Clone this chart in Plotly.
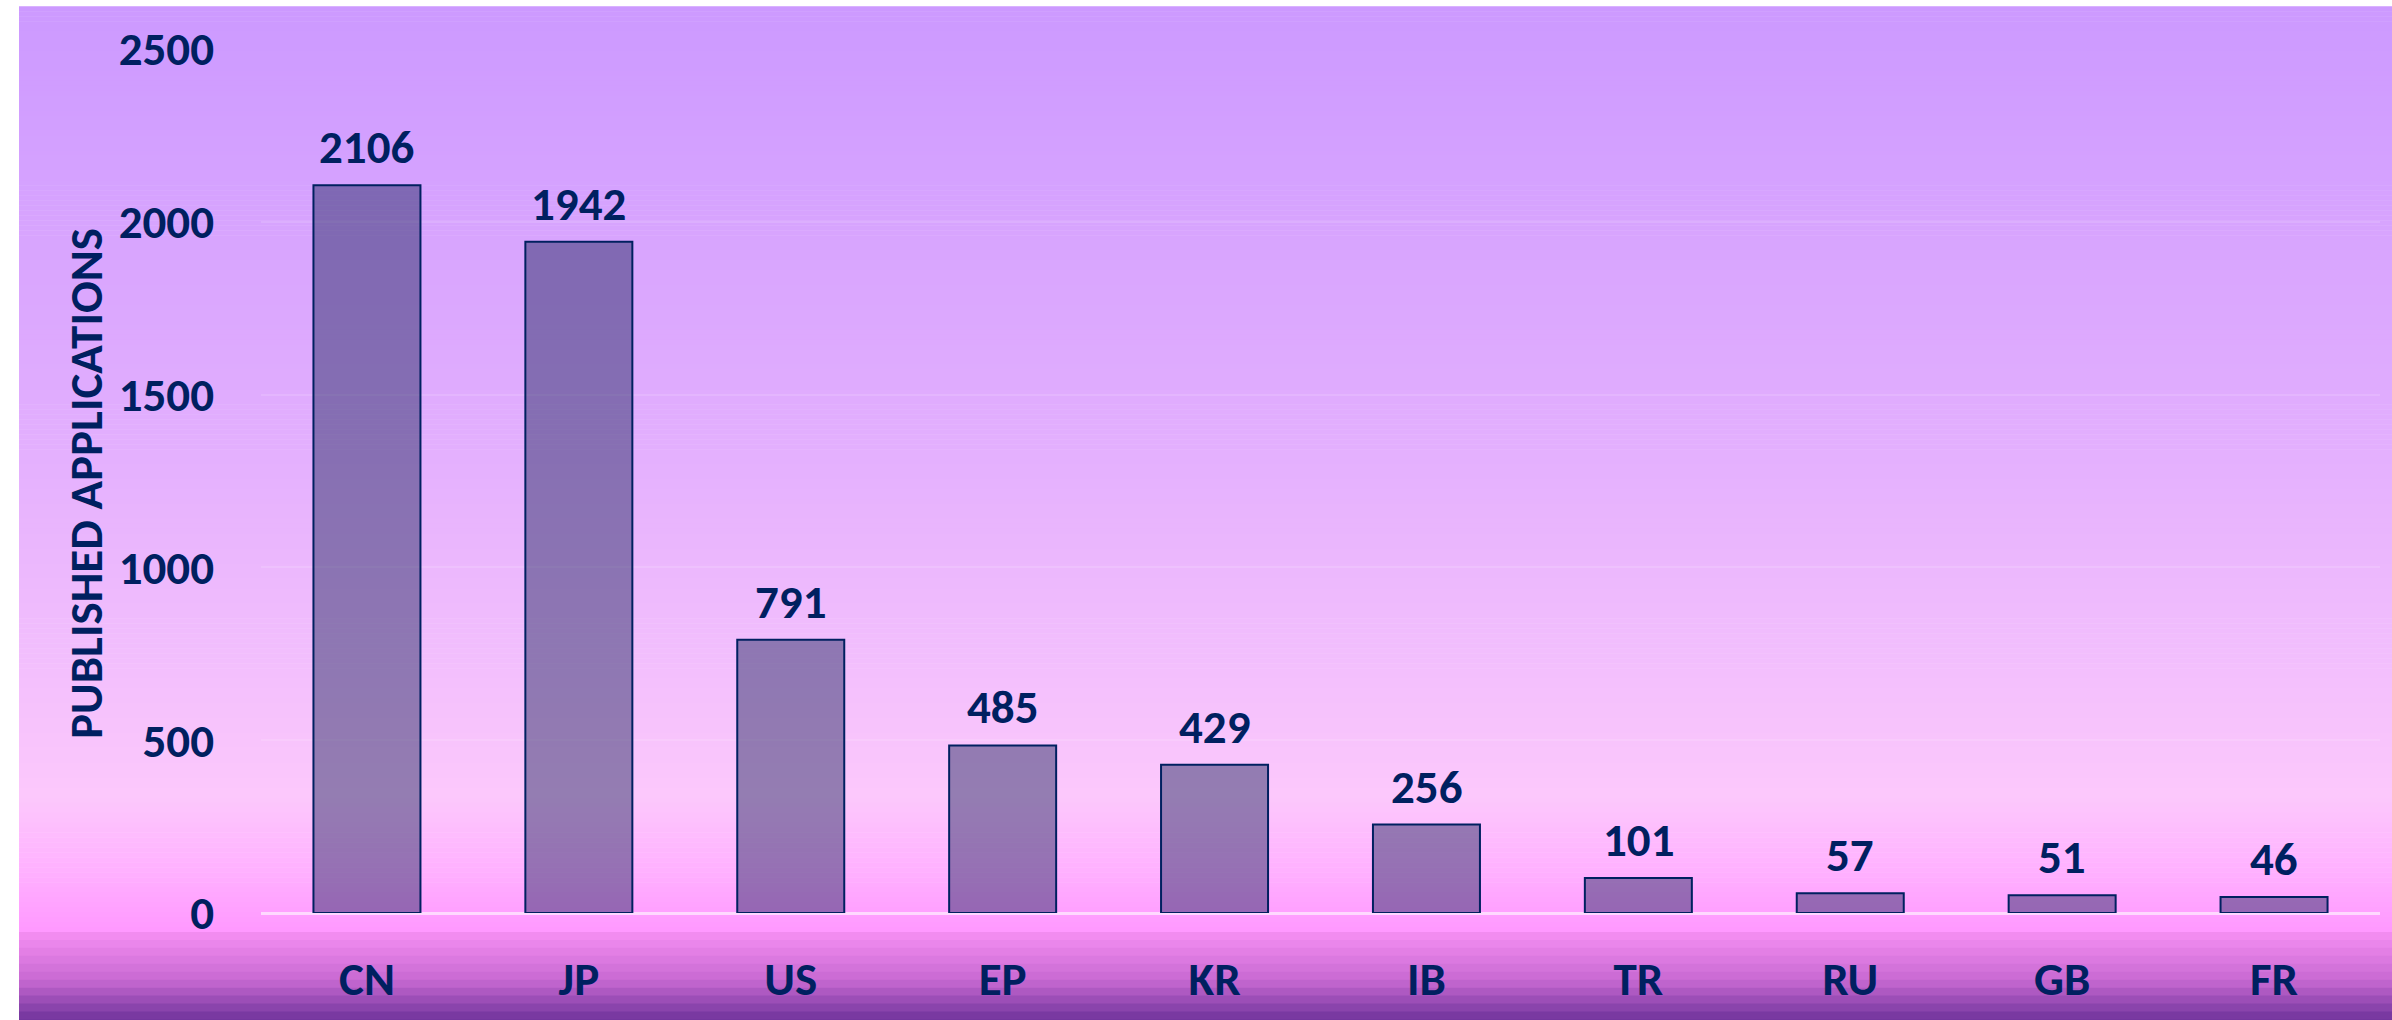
import plotly.graph_objects as go

# ---- data ----
countries = ["CN", "JP", "US", "EP", "KR", "IB", "TR", "RU", "GB", "FR"]
applications = [2106, 1942, 791, 485, 429, 256, 101, 57, 51, 46]
y_ticks = [0, 500, 1000, 1500, 2000, 2500]
y_title = "PUBLISHED APPLICATIONS"

# ---- layout geometry (px) ----
W, H = 2392, 1020
L, R, T, B = 261, 2380, 49, 917
PW, PH = R - L, B - T

def px_x(x):
    return (x - L) / PW

def px_y(y):
    return (B - y) / PH

NAVY = "#002060"
FONT = "Calibri, Carlito, Lato, sans-serif"

# ---- background gradient (as shapes) ----
def lerp(c1, c2, t):
    return tuple(round(a + (b - a) * t) for a, b in zip(c1, c2))

stops = [
    (0, (204, 153, 255)),
    (400, (224, 172, 254)),
    (800, (252, 200, 252)),
    (870, (255, 178, 255)),
    (936, (255, 152, 255)),
]
bottom_stops = [
    (936, (242, 140, 240)),
    (980, (200, 105, 210)),
    (1020, (112, 52, 156)),
]

def color_at(y, st):
    for (y0, c0), (y1, c1) in zip(st[:-1], st[1:]):
        if y0 <= y <= y1:
            return lerp(c0, c1, (y - y0) / (y1 - y0))
    return st[-1][1]

shapes = []
step = 5
y = 6
while y < 936:
    y2 = min(y + step, 936)
    c = color_at((y + y2) / 2, stops)
    shapes.append(dict(type="rect", xref="paper", yref="paper",
                       x0=px_x(19), x1=px_x(2400), y0=px_y(y2 + 0.5), y1=px_y(y),
                       fillcolor="rgb(%d,%d,%d)" % c, line=dict(width=0), layer="below"))
    y = y2
step = 8
y = 936
while y < 1030:
    y2 = y + step
    c = color_at(min(y, 1020), bottom_stops)
    shapes.append(dict(type="rect", xref="paper", yref="paper",
                       x0=px_x(19), x1=px_x(2400), y0=px_y(y2 + 0.5), y1=px_y(y),
                       fillcolor="rgb(%d,%d,%d)" % c, line=dict(width=0), layer="below"))
    y = y2

fig = go.Figure()
fig.add_trace(go.Bar(
    x=countries, y=applications,
    marker=dict(color="rgba(22,34,88,0.45)", line=dict(color=NAVY, width=2)),
    hoverinfo="x+y",
))

annotations = []
for c, v in zip(countries, applications):
    annotations.append(dict(x=c, y=v, xref="x", yref="y", text="<b>%d</b>" % v,
                            showarrow=False, yanchor="middle", yshift=38,
                            font=dict(family=FONT, size=47, color=NAVY)))
annotations.append(dict(x=px_x(86), y=px_y(486), xref="paper", yref="paper",
                        text="<b>%s</b>" % y_title, textangle=-90, showarrow=False,
                        xanchor="center", yanchor="middle",
                        font=dict(family=FONT, size=47, color=NAVY)))

fig.update_layout(
    width=W, height=H,
    margin=dict(l=L, r=W - R, t=T, b=H - B, pad=0),
    paper_bgcolor="white",
    plot_bgcolor="rgba(0,0,0,0)",
    shapes=shapes,
    annotations=annotations,
    bargap=0.495,
    showlegend=False,
    font=dict(family=FONT, color=NAVY),
    xaxis=dict(
        tickfont=dict(family=FONT, size=47, color=NAVY, weight="bold"),
        showgrid=False, showline=False, ticks="", ticklabelstandoff=34,
        fixedrange=True,
    ),
    yaxis=dict(
        range=[0, 2500], tickvals=y_ticks,
        tickfont=dict(family=FONT, size=47, color=NAVY, weight="bold"),
        showgrid=True, gridcolor="rgba(255,255,255,0.13)", gridwidth=2,
        zeroline=True, zerolinecolor="rgba(255,235,255,0.75)", zerolinewidth=3,
        ticks="", ticklabelstandoff=46, showline=False,
        fixedrange=True,
    ),
)

fig.write_html(
    "out.html",
    config={"displayModeBar": False},
    post_script="document.body.style.margin='0';document.body.style.overflow='hidden';",
)
